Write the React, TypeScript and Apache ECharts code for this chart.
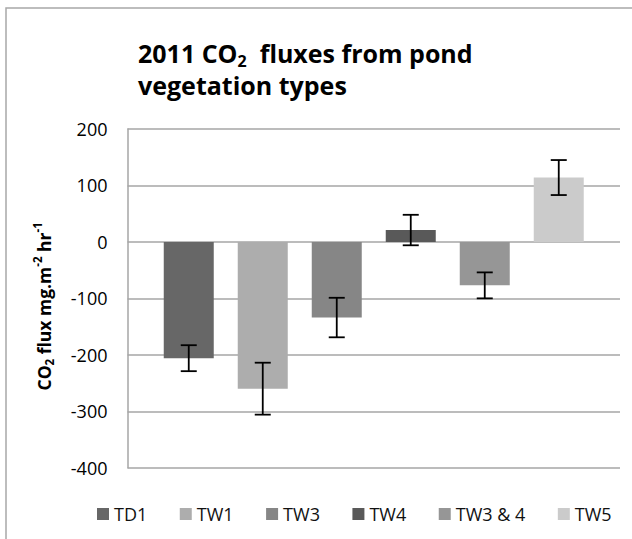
import React, { useEffect, useRef } from "react";
import * as echarts from "echarts";

const CATEGORIES = ["TD1", "TW1", "TW3", "TW4", "TW3 & 4", "TW5"];
const VALUES = [-206, -260, -134, 21, -77, 114];
const ERRORS = [23, 46, 35, 27, 23, 31];
const COLORS = ["#676767", "#adadad", "#868686", "#595959", "#969696", "#cbcbcb"];
const Y_MIN = -400;
const Y_MAX = 200;
const Y_INTERVAL = 100;

const BAR_W = 50;
const GAP = 0.48;
const FONT = "'Open Sans', sans-serif";

export default function App() {
  const ref = useRef<HTMLDivElement>(null);
  useEffect(() => {
    if (!ref.current) return;
    const chart = echarts.init(ref.current, null, { renderer: "svg" });
    const n = CATEGORIES.length;
    const barSeries = CATEGORIES.map((name, i) => ({
      type: "bar",
      name,
      data: [VALUES[i]],
      barWidth: BAR_W,
      barGap: GAP * 100 + "%",
      itemStyle: { color: COLORS[i] },
      z: 2,
    }));
    const errSeries = {
      type: "custom",
      name: "err",
      z: 5,
      encode: { x: 0, y: [1, 2] },
      data: CATEGORIES.map((_, i) => [0, VALUES[i] - ERRORS[i], VALUES[i] + ERRORS[i], i]),
      renderItem: (params: any, api: any) => {
        const i = api.value(3);
        const lo = api.coord([0, api.value(1)]);
        const hi = api.coord([0, api.value(2)]);
        const x = lo[0] + (i - (n - 1) / 2) * BAR_W * (1 + GAP);
        const cap = 8;
        const style = { stroke: "#000", lineWidth: 1.8 };
        return {
          type: "group",
          children: [
            { type: "line", shape: { x1: x, y1: hi[1], x2: x, y2: lo[1] }, style },
            { type: "line", shape: { x1: x - cap, y1: hi[1], x2: x + cap, y2: hi[1] }, style },
            { type: "line", shape: { x1: x - cap, y1: lo[1], x2: x + cap, y2: lo[1] }, style },
          ],
        };
      },
    };
    chart.setOption({
      animation: false,
      backgroundColor: "#fff",
      title: {
        text: "2011 CO{sub|2}  fluxes from pond\nvegetation types",
        left: 138,
        top: 37,
        padding: 0,
        textStyle: {
          fontFamily: FONT,
          fontSize: 25,
          fontWeight: "bold",
          color: "#000",
          lineHeight: 32,
          rich: {
            sub: {
              fontFamily: FONT,
              fontSize: 16,
              fontWeight: "bold",
              color: "#000",
              lineHeight: 22,
              verticalAlign: "bottom",
            },
          },
        },
      },
      legend: {
        data: CATEGORIES,
        left: 97,
        top: 505,
        padding: 0,
        icon: "rect",
        itemWidth: 12,
        itemHeight: 12,
        itemGap: 32.5,
        textStyle: { fontFamily: FONT, fontSize: 18, color: "#111", lineHeight: 18 },
      },
      graphic: [
        {
          type: "rect",
          silent: true,
          shape: { x: 6, y: 8, width: 700, height: 600 },
          style: { fill: "none", stroke: "#a8a8a8", lineWidth: 1.5 },
          z: -1,
        },
      ],
      grid: { left: 127.5, right: 12, top: 129, bottom: 71.3, containLabel: false },
      xAxis: {
        type: "category",
        data: [""],
        axisLine: { show: false },
        axisTick: { show: false },
        axisLabel: { show: false },
      },
      yAxis: {
        type: "value",
        min: Y_MIN,
        max: Y_MAX,
        interval: Y_INTERVAL,
        name: "CO{sub|2} flux mg.m{sup|-2} hr{sup|-1}",
        nameLocation: "middle",
        nameRotate: 90,
        nameGap: 72,
        nameTextStyle: {
          fontFamily: FONT,
          fontSize: 17.5,
          fontWeight: "bold",
          color: "#000",
          lineHeight: 24,
          padding: [0, 16, 0, 0],
          rich: {
            sub: { fontFamily: FONT, fontSize: 11.5, fontWeight: "bold", color: "#000", lineHeight: 14, verticalAlign: "bottom" },
            sup: { fontFamily: FONT, fontSize: 11.5, fontWeight: "bold", color: "#000", lineHeight: 16, verticalAlign: "top" },
          },
        },
        axisLine: { show: true, lineStyle: { color: "#a6a6a6", width: 1.5 } },
        axisTick: { show: false },
        axisLabel: { fontFamily: FONT, fontSize: 18, color: "#000", margin: 20 },
        splitLine: { lineStyle: { color: "#a6a6a6", width: 1.5 } },
      },
      series: [...barSeries, errSeries],
    });
    return () => chart.dispose();
  }, []);
  return (
    <div
      ref={ref}
      style={{ position: "fixed", left: 0, top: 0, width: 632, height: 539 }}
    />
  );
}
